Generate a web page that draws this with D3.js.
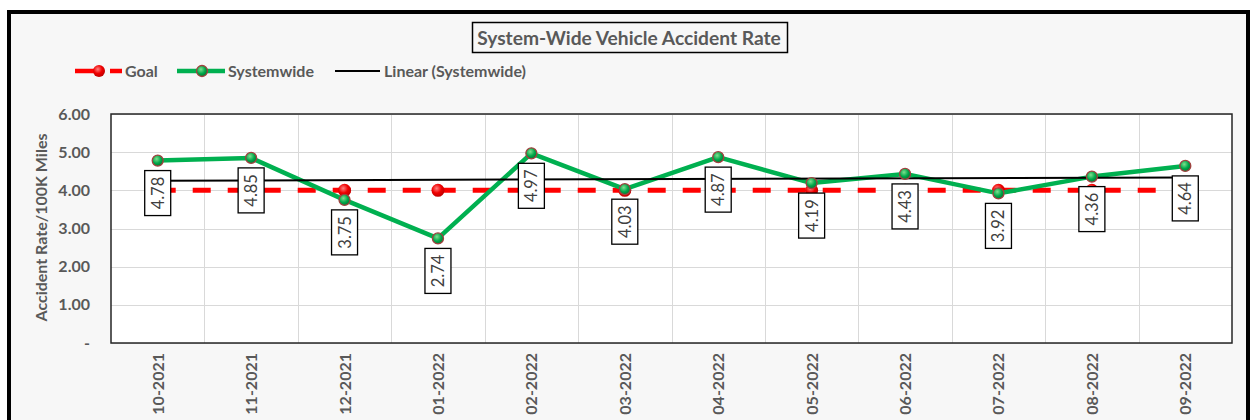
<!DOCTYPE html>
<html>
<head>
<meta charset="utf-8">
<script src="https://cdn.jsdelivr.net/npm/d3@7"></script>
<style>
  html, body { margin: 0; padding: 0; background: #ffffff; }
  svg { display: block; }
</style>
</head>
<body>
<svg id="chart" width="1251" height="420"></svg>
<script>
// ---- data ----
const months = ["10-2021","11-2021","12-2021","01-2022","02-2022","03-2022","04-2022","05-2022","06-2022","07-2022","08-2022","09-2022"];
const systemwide = [4.78, 4.85, 3.75, 2.74, 4.97, 4.03, 4.87, 4.19, 4.43, 3.92, 4.36, 4.64];
const goal = [4.00, 4.00, 4.00, 4.00, 4.00, 4.00, 4.00, 4.00, 4.00, 4.00, 4.00, 4.00];
const yTicks = [0, 1, 2, 3, 4, 5, 6];
const titleText = "System-Wide Vehicle Accident Rate";
const yAxisTitle = "Accident  Rate/100K Miles";
const legendLabels = ["Goal", "Systemwide", "Linear (Systemwide)"];

// ---- layout ----
const svg = d3.select("#chart");
const W = 1251, H = 420;
const plot = { left: 111, right: 1232, top: 114, bottom: 343 };
const FONT = "Lato, 'Open Sans', 'DejaVu Sans', sans-serif";
const GREY = "#595959";

const x = d3.scaleBand().domain(months).range([plot.left, plot.right]).paddingInner(0).paddingOuter(0);
const xc = d => x(d) + x.bandwidth() / 2;
const y = d3.scaleLinear().domain([0, 6]).range([plot.bottom, plot.top]);

// defs: gradients
const defs = svg.append("defs");
const gGreen = defs.append("radialGradient").attr("id", "gGreen").attr("cx", "40%").attr("cy", "35%").attr("r", "65%");
gGreen.append("stop").attr("offset", "0%").attr("stop-color", "#7fe08f");
gGreen.append("stop").attr("offset", "60%").attr("stop-color", "#00a84a");
gGreen.append("stop").attr("offset", "100%").attr("stop-color", "#007a33");
const gRed = defs.append("radialGradient").attr("id", "gRed").attr("cx", "40%").attr("cy", "35%").attr("r", "65%");
gRed.append("stop").attr("offset", "0%").attr("stop-color", "#ff8080");
gRed.append("stop").attr("offset", "55%").attr("stop-color", "#f00000");
gRed.append("stop").attr("offset", "100%").attr("stop-color", "#c00000");

// outer frame
svg.append("rect").attr("x", 0).attr("y", 0).attr("width", W).attr("height", H).attr("fill", "#ffffff");
svg.append("rect").attr("x", 9).attr("y", 12).attr("width", 1239).attr("height", 420)
  .attr("fill", "#f7f7f7").attr("stroke", "#000").attr("stroke-width", 4);

// title
const titleG = svg.append("g");
titleG.append("rect").attr("x", 472.5).attr("y", 22.5).attr("width", 315).attr("height", 30)
  .attr("fill", "#f7f7f7").attr("stroke", "#000").attr("stroke-width", 1.5);
titleG.append("text").attr("x", 629).attr("y", 44.5).attr("text-anchor", "middle")
  .attr("font-family", FONT).attr("font-weight", "bold").attr("font-size", 19.2).attr("fill", GREY)
  .text(titleText);

// legend
const leg = svg.append("g").attr("font-family", FONT).attr("font-weight", "bold").attr("font-size", 16).attr("fill", GREY);
const ly = 71;
leg.append("line").attr("x1", 75).attr("x2", 94).attr("y1", ly).attr("y2", ly).attr("stroke", "#ff0000").attr("stroke-width", 4.5);
leg.append("line").attr("x1", 110).attr("x2", 122).attr("y1", ly).attr("y2", ly).attr("stroke", "#ff0000").attr("stroke-width", 4.5);
leg.append("circle").attr("cx", 99).attr("cy", ly).attr("r", 6).attr("fill", "url(#gRed)");
leg.append("text").attr("x", 125).attr("y", ly + 5.5).text(legendLabels[0]);
leg.append("line").attr("x1", 177).attr("x2", 225).attr("y1", ly).attr("y2", ly).attr("stroke", "#00b050").attr("stroke-width", 4.5);
leg.append("circle").attr("cx", 202).attr("cy", ly).attr("r", 5.5).attr("fill", "url(#gGreen)").attr("stroke", "#a0413f").attr("stroke-width", 1.3);
leg.append("text").attr("x", 228).attr("y", ly + 5.5).text(legendLabels[1]);
leg.append("line").attr("x1", 335).attr("x2", 380).attr("y1", ly).attr("y2", ly).attr("stroke", "#000").attr("stroke-width", 2);
leg.append("text").attr("x", 384).attr("y", ly + 5.5).text(legendLabels[2]);

// plot area
svg.append("rect").attr("x", plot.left).attr("y", plot.top).attr("width", plot.right - plot.left).attr("height", plot.bottom - plot.top)
  .attr("fill", "#ffffff");

// gridlines
const grid = svg.append("g").attr("stroke", "#d9d9d9").attr("stroke-width", 1);
grid.selectAll("line.h").data(yTicks).join("line")
  .attr("x1", plot.left).attr("x2", plot.right)
  .attr("y1", d => Math.round(y(d)) + 0.5).attr("y2", d => Math.round(y(d)) + 0.5);
grid.selectAll("line.v").data(months.slice(1)).join("line")
  .attr("x1", d => Math.round(x(d)) + 0.5).attr("x2", d => Math.round(x(d)) + 0.5)
  .attr("y1", plot.top).attr("y2", plot.bottom);

// plot border
svg.append("rect").attr("x", plot.left).attr("y", plot.top).attr("width", plot.right - plot.left).attr("height", plot.bottom - plot.top)
  .attr("fill", "none").attr("stroke", "#262626").attr("stroke-width", 1.5);

// y axis
const yAxis = d3.axisLeft(y).tickValues(yTicks).tickSize(0).tickPadding(21)
  .tickFormat(d => d === 0 ? "-" : d3.format(".2f")(d));
const yg = svg.append("g").attr("transform", `translate(${plot.left},0)`).call(yAxis);
yg.select(".domain").remove();
yg.selectAll("text").attr("font-family", FONT).attr("font-weight", "bold").attr("font-size", 16).attr("fill", GREY);

// y axis title
svg.append("text").attr("transform", `translate(47,${(plot.top + plot.bottom) / 2 - 1}) rotate(-90)`)
  .attr("text-anchor", "middle").attr("font-family", FONT).attr("font-weight", "bold").attr("font-size", 16).attr("fill", GREY)
  .text(yAxisTitle);

// x axis
const xAxis = d3.axisBottom(x).tickSize(0).tickPadding(0);
const xg = svg.append("g").attr("transform", `translate(0,${plot.bottom})`).call(xAxis);
xg.select(".domain").remove();
xg.selectAll("text")
  .attr("font-family", FONT).attr("font-weight", "bold").attr("font-size", 16).attr("fill", GREY)
  .attr("text-anchor", "end").attr("dy", null)
  .attr("transform", "translate(6,10) rotate(-90)");

// goal series
const goalLine = d3.line().x((d, i) => xc(months[i])).y(d => y(d));
svg.append("path").datum(goal).attr("d", goalLine).attr("fill", "none")
  .attr("stroke", "#ff0000").attr("stroke-width", 5).attr("stroke-dasharray", "18,17");
svg.append("g").selectAll("circle").data(goal).join("circle")
  .attr("cx", (d, i) => xc(months[i])).attr("cy", d => y(d)).attr("r", 6.5).attr("fill", "url(#gRed)");

// systemwide series
const sysLine = d3.line().x((d, i) => xc(months[i])).y(d => y(d));
svg.append("path").datum(systemwide).attr("d", sysLine).attr("fill", "none")
  .attr("stroke", "#00b050").attr("stroke-width", 4.5).attr("stroke-linejoin", "round");

// linear trendline (least squares fit of systemwide)
const n = systemwide.length;
const idx = d3.range(n);
const mx = d3.mean(idx), my = d3.mean(systemwide);
const slope = d3.sum(idx, i => (i - mx) * (systemwide[i] - my)) / d3.sum(idx, i => (i - mx) * (i - mx));
const icpt = my - slope * mx;
svg.append("line")
  .attr("x1", xc(months[0])).attr("y1", y(icpt))
  .attr("x2", xc(months[n - 1])).attr("y2", y(icpt + slope * (n - 1)))
  .attr("stroke", "#000").attr("stroke-width", 2);

svg.append("g").selectAll("circle").data(systemwide).join("circle")
  .attr("cx", (d, i) => xc(months[i])).attr("cy", d => y(d)).attr("r", 5.5)
  .attr("fill", "url(#gGreen)").attr("stroke", "#a0413f").attr("stroke-width", 1.3);

// data labels
const lab = svg.append("g").selectAll("g").data(systemwide).join("g")
  .attr("transform", (d, i) => `translate(${xc(months[i])},${y(d) + 10})`);
lab.append("rect").attr("x", -13).attr("y", 0).attr("width", 26).attr("height", 45)
  .attr("fill", "#ffffff").attr("stroke", "#000").attr("stroke-width", 1.3);
lab.append("text").attr("transform", "translate(6,22.5) rotate(-90)").attr("text-anchor", "middle")
  .attr("font-family", FONT).attr("font-size", 16.5).attr("fill", "#404040")
  .text(d => d3.format(".2f")(d));
</script>
</body>
</html>
